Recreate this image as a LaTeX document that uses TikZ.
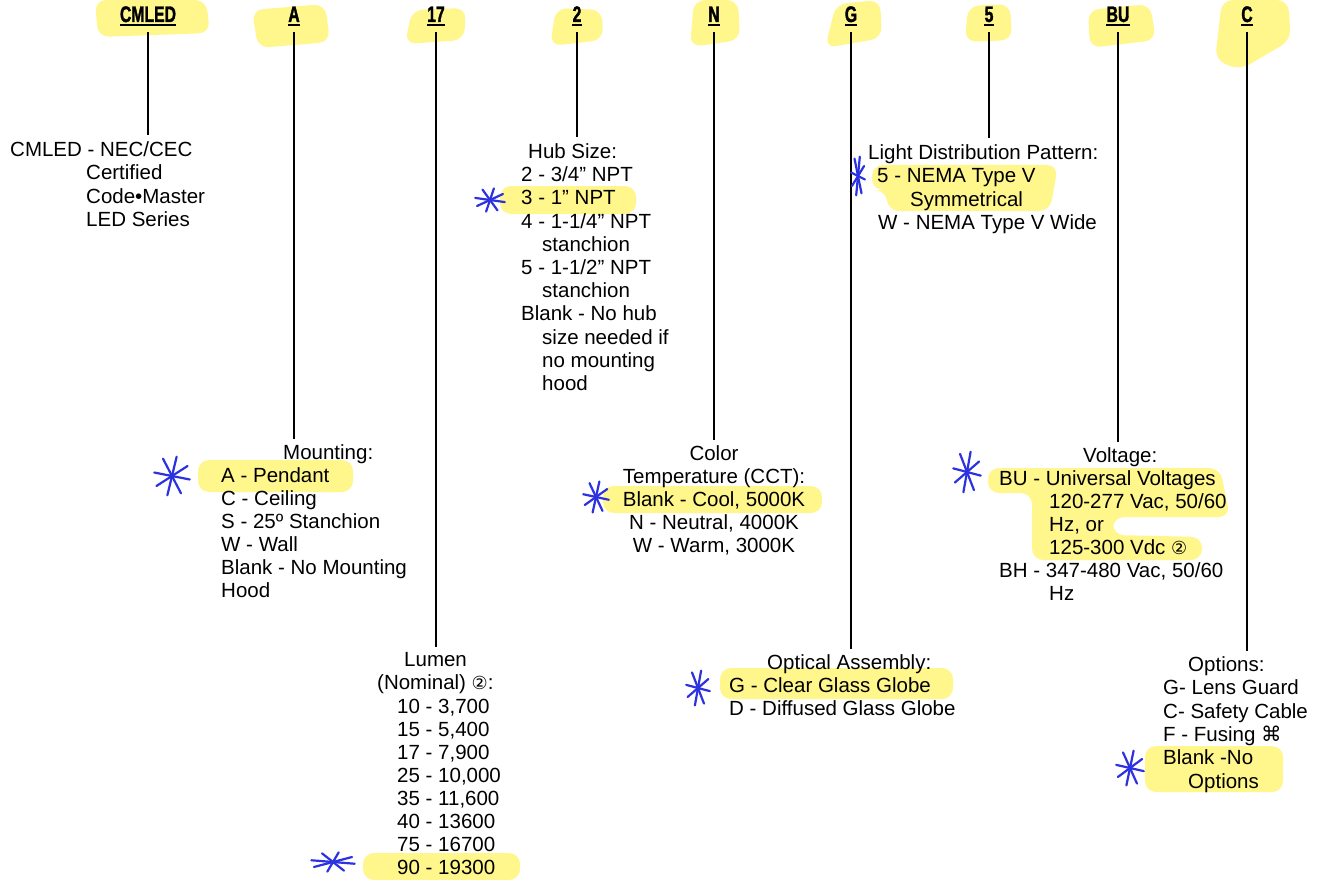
\documentclass[tikz,border=0pt]{standalone}
\usepackage{fontspec}
\setmainfont{Liberation Sans}
\newfontfamily\condfont[FakeStretch=0.7,FakeBold=1.5]{Liberation Sans Bold}
\newfontfamily\symfont{DejaVu Sans}
\definecolor{hl}{RGB}{255,246,140}
\definecolor{pen}{RGB}{45,50,225}
\newcommand\bodyfont[1]{\fontsize{20.5}{#1}\selectfont}
\newcommand\circtwo{{\symfont\fontsize{18}{18}\selectfont ②}}
\newcommand\starmark[4]{\foreach \a in {10,60,105,150}{\draw[astk] ({#1+#3*cos(\a)},{#2+#4*sin(\a)}) -- ({#1-#3*cos(\a)},{#2-#4*sin(\a)});}}
\tikzset{
  blk/.style={inner sep=0pt, anchor=north west, align=left},
  codelbl/.style={inner sep=0pt, anchor=base, font=\condfont\fontsize{22.5}{24}\selectfont},
  uline/.style={line width=1.8pt},
  conn/.style={line width=1.3pt, shorten >=6pt},
  hlt/.style={fill=hl, draw=none, rounded corners=11pt},
  astk/.style={draw=pen, line width=2.2pt, line cap=round},
}
\begin{document}
\begin{tikzpicture}[x=1pt, y=-1pt]
\useasboundingbox (0,0) rectangle (1320,880);
\fill[white] (0,0) rectangle (1320,880);
% header highlights
\fill[hlt] (95,0) -- (206,0) -- (210,33) -- (98,37) -- cycle;
\fill[hlt] (252,10) -- (325,4) -- (330,42) -- (258,48) -- cycle;
\fill[hlt] (412,10) -- (466,8) -- (464,40) -- (405,44) -- cycle;
\fill[hlt] (556,8) -- (602,10) -- (603,40) -- (550,46) -- cycle;
\fill[hlt] (694,0) -- (738,0) -- (740,40) -- (690,47) -- cycle;
\fill[hlt] (836,4) -- (880,0) -- (882,38) -- (825,48) -- cycle;
\fill[hlt] (968,6) -- (1010,4) -- (1012,40) -- (965,42) -- cycle;
\fill[hlt] (1088,10) -- (1150,4) -- (1156,40) -- (1090,48) -- cycle;
\fill[hlt] (1222,0) -- (1288,0) -- (1291,40) -- (1240,70) -- (1215,60) -- cycle;
% body highlights
\fill[hlt] (500,186) rectangle (636,214);
\fill[hlt] (872,165) -- (1058,165) -- (1050,211) -- (888,211) -- (886,190) -- (872,190) -- cycle;
\fill[hlt] (198,460) rectangle (353,492);
\fill[hlt] (603,486) rectangle (822,513);
\fill[hlt] (988,468) -- (1220,468) -- (1230,517) -- (1113,517) -- (1113,535) -- (1202,537) -- (1202,560) -- (1032,560) -- (1032,493) -- (988,493) -- cycle;
\fill[hlt] (363,853) rectangle (520,880);
\fill[hlt] (720,668) rectangle (953,699);
\fill[hlt] (1145,746) rectangle (1283,792);
% codes
\node[codelbl] (kCMLED) at (148,22) {CMLED};
\node[codelbl] (kA) at (294,22) {A};
\node[codelbl] (kL) at (436,22) {17};
\node[codelbl] (kH) at (577,22) {2};
\node[codelbl] (kN) at (714,22) {N};
\node[codelbl] (kG) at (851,22) {G};
\node[codelbl] (kP) at (989,22) {5};
\node[codelbl] (kBU) at (1118,22) {BU};
\node[codelbl] (kC) at (1247,22) {C};
\foreach \k in {kCMLED,kA,kL,kH,kN,kG,kP,kBU,kC}{
  \draw[uline] ([yshift=-3pt]\k.base west) -- ([yshift=-3pt]\k.base east);
}
% blocks
\node[blk, font=\bodyfont{23.3}] (bCMLED) at (10,141.5) {CMLED - NEC/CEC\\ \hspace*{76pt}Certified\\ \hspace*{76pt}Code•Master\\ \hspace*{76pt}LED Series};
\node[blk, font=\bodyfont{23.2}] (bHub) at (521,143.5) {\hspace*{7pt}Hub Size:\\ 2 - 3/4” NPT\\ 3 - 1” NPT\\ 4 - 1-1/4” NPT\\ \hspace*{21pt}stanchion\\ 5 - 1-1/2” NPT\\ \hspace*{21pt}stanchion\\ Blank - No hub\\ \hspace*{21pt}size needed if\\ \hspace*{21pt}no mounting\\ \hspace*{21pt}hood};
\node[blk, font=\bodyfont{23.3}] (bLight) at (868,144.5) {Light Distribution Pattern:\\ \hspace*{9pt}5 - NEMA Type V\\ \hspace*{42pt}Symmetrical\\ \hspace*{10pt}W - NEMA Type V Wide};
\node[blk, font=\bodyfont{23}] (bMount) at (221,444.5) {\hspace*{62pt}Mounting:\\ A - Pendant\\ C - Ceiling\\ S - 25º Stanchion\\ W - Wall\\ Blank - No Mounting\\ Hood};
\node[inner sep=0pt, anchor=north, align=center, font=\bodyfont{23}] (bColor) at (714,445.5) {Color\\ Temperature (CCT):\\ Blank - Cool, 5000K\\ N - Neutral, 4000K\\ W - Warm, 3000K};
\node[blk, font=\bodyfont{23}] (bVolt) at (999,447.5) {\hspace*{84pt}Voltage:\\ BU - Universal Voltages\\ \hspace*{50pt}120-277 Vac, 50/60\\ \hspace*{50pt}Hz, or\\ \hspace*{50pt}125-300 Vdc \circtwo\\ BH - 347-480 Vac, 50/60\\ \hspace*{50pt}Hz};
\node[blk, font=\bodyfont{23.1}] (bLumen) at (377,652.5) {\hspace*{27pt}Lumen\\ (Nominal) \circtwo:\\ \hspace*{20pt}10 - 3,700\\ \hspace*{20pt}15 - 5,400\\ \hspace*{20pt}17 - 7,900\\ \hspace*{20pt}25 - 10,000\\ \hspace*{20pt}35 - 11,600\\ \hspace*{20pt}40 - 13600\\ \hspace*{20pt}75 - 16700\\ \hspace*{20pt}90 - 19300};
\node[blk, font=\bodyfont{23}] (bOpt) at (729,654.5) {\hspace*{38pt}Optical Assembly:\\ G - Clear Glass Globe\\ D - Diffused Glass Globe};
\node[blk, font=\bodyfont{23.3}] (bOpts) at (1163,656.5) {\hspace*{25pt}Options:\\ G- Lens Guard\\ C- Safety Cable\\ F - Fusing {\symfont ⌘}\\ Blank -No\\ \hspace*{25pt}Options};
% connectors
\draw[conn] ([yshift=-10pt]kCMLED.base) -- (kCMLED.base |- bCMLED.north);
\draw[conn] ([yshift=-10pt]kA.base) -- (kA.base |- bMount.north);
\draw[conn] ([yshift=-10pt]kL.base) -- (kL.base |- bLumen.north);
\draw[conn] ([yshift=-10pt]kH.base) -- (kH.base |- bHub.north);
\draw[conn] ([yshift=-10pt]kN.base) -- (kN.base |- bColor.north);
\draw[conn] ([yshift=-10pt]kG.base) -- (kG.base |- bOpt.north);
\draw[conn] ([yshift=-10pt]kP.base) -- (kP.base |- bLight.north);
\draw[conn] ([yshift=-10pt]kBU.base) -- (kBU.base |- bVolt.north);
\draw[conn] ([yshift=-10pt]kC.base) -- (kC.base |- bOpts.north);
% hand-drawn marks
\starmark{490}{200}{15}{12}
\starmark{858}{176}{7}{20}
\starmark{172}{476}{18}{20}
\starmark{596}{497}{13}{16}
\starmark{967}{472}{14}{21}
\starmark{333}{862}{22}{10}
\starmark{698}{688}{12}{18}
\starmark{1130}{768}{14}{18}
\end{tikzpicture}
\end{document}
